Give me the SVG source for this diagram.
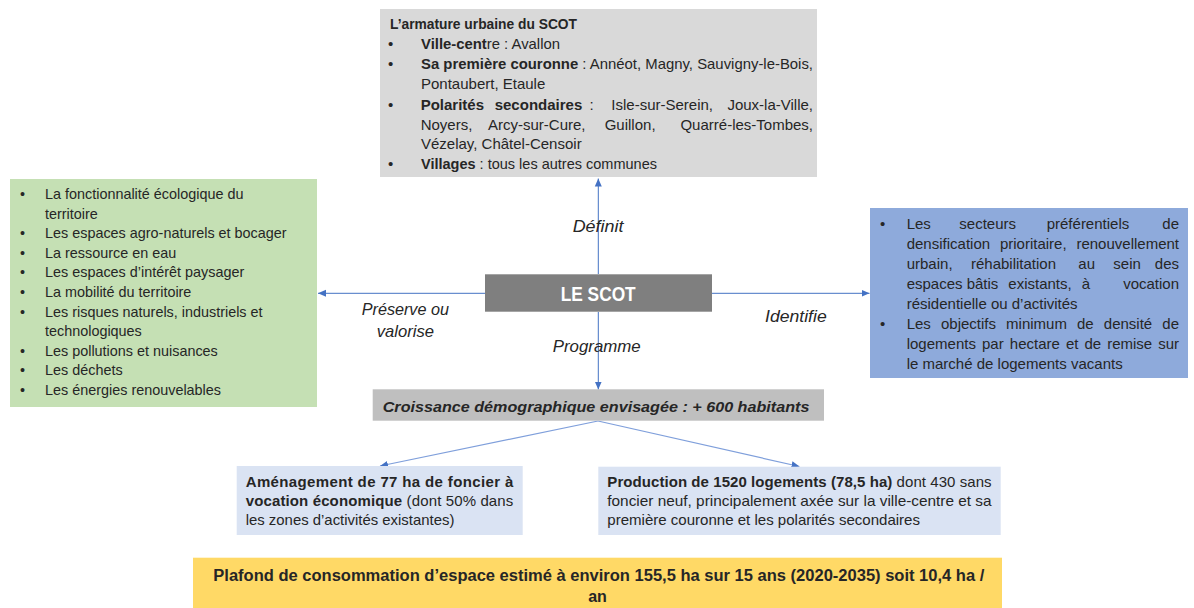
<svg xmlns="http://www.w3.org/2000/svg" width="1194" height="608" viewBox="0 0 1194 608">
<style>
text{font-family:"Liberation Sans",Arial,sans-serif;fill:#262626}
.t15{font-size:15px}
.t14{font-size:14.4px}
.b{font-weight:bold}
.lbl{font-size:16.5px;font-style:italic}
.ln{stroke:#4472c4;stroke-width:1;fill:none}
.ln2{stroke:#7f9fdb;stroke-width:1.2;fill:none}
</style>
<defs>
<marker id="ah" viewBox="0 0 8 8" refX="8" refY="4" markerWidth="8" markerHeight="8" markerUnits="userSpaceOnUse" orient="auto">
<path d="M0,0.5 L8,4 L0,7.5 z" fill="#4472c4"/>
</marker>
</defs>
<rect width="1194" height="608" fill="#ffffff"/>

<g id="connectors">
<line class="ln" x1="598.3" y1="274" x2="598.3" y2="178.5" marker-end="url(#ah)"/>
<line class="ln" x1="598.3" y1="312" x2="598.3" y2="389.5" marker-end="url(#ah)"/>
<line class="ln" x1="485" y1="293.3" x2="318" y2="293.3" marker-end="url(#ah)"/>
<line class="ln" x1="712" y1="293.3" x2="869.5" y2="293.3" marker-end="url(#ah)"/>
<line class="ln2" x1="598" y1="421" x2="380" y2="466" marker-end="url(#ah)"/>
<line class="ln2" x1="598" y1="421" x2="799.5" y2="466.5" marker-end="url(#ah)"/>
<text class="lbl" x="572.7" y="231.7" textLength="50.7" lengthAdjust="spacingAndGlyphs">Définit</text>
<text class="lbl" x="361.7" y="315" textLength="87.3" lengthAdjust="spacingAndGlyphs">Préserve ou</text>
<text class="lbl" x="376.7" y="336.7" textLength="57.3" lengthAdjust="spacingAndGlyphs">valorise</text>
<text class="lbl" x="765" y="321.7" textLength="61.7" lengthAdjust="spacingAndGlyphs">Identifie</text>
<text class="lbl" x="552.7" y="351.7" textLength="88" lengthAdjust="spacingAndGlyphs">Programme</text>
</g>

<g id="armature">
<rect x="380" y="9" width="437" height="168" fill="#d9d9d9"/>
<text class="t15 b" x="390" y="29.3" textLength="187" lengthAdjust="spacingAndGlyphs">L’armature urbaine du SCOT</text>
<g class="t15">
<text x="388" y="49.3">•</text>
<text x="388" y="69.3">•</text>
<text x="388" y="109.5">•</text>
<text x="388" y="169.3">•</text>
</g>
<text class="t15" x="421" y="49.3" textLength="139" lengthAdjust="spacingAndGlyphs"><tspan class="b">Ville-cent</tspan>re : Avallon</text>
<text class="t15" x="421" y="69.3" textLength="392" lengthAdjust="spacingAndGlyphs"><tspan class="b">Sa première couronne</tspan> : Annéot, Magny, Sauvigny-le-Bois,</text>
<text class="t15" x="421" y="89.3">Pontaubert, Etaule</text>
<text class="t15" y="109.5"><tspan class="b" x="420.7">Polarités</tspan><tspan class="b" x="494.7">secondaires</tspan><tspan x="589.5">:</tspan><tspan x="611.3">Isle-sur-Serein,</tspan></text>
<text class="t15" x="813" y="109.5" text-anchor="end">Joux-la-Ville,</text>
<text class="t15" y="129.5"><tspan x="420.7">Noyers,</tspan><tspan x="488">Arcy-sur-Cure,</tspan><tspan x="604.7">Guillon,</tspan></text>
<text class="t15" x="813" y="129.5" text-anchor="end">Quarré-les-Tombes,</text>
<text class="t15" x="421" y="149.3">Vézelay, Châtel-Censoir</text>
<text class="t15" x="421" y="169.3" textLength="236" lengthAdjust="spacingAndGlyphs"><tspan class="b">Villages</tspan> : tous les autres communes</text>
</g>

<g id="preserve">
<rect x="10" y="179" width="307" height="228" fill="#c5e0b4"/>
<g class="t14">
<text x="20" y="199">•</text><text x="45" y="199">La fonctionnalité écologique du</text>
<text x="45" y="218.6">territoire</text>
<text x="20" y="238.2">•</text><text x="45" y="238.2">Les espaces agro-naturels et bocager</text>
<text x="20" y="257.8">•</text><text x="45" y="257.8">La ressource en eau</text>
<text x="20" y="277.4">•</text><text x="45" y="277.4">Les espaces d’intérêt paysager</text>
<text x="20" y="297">•</text><text x="45" y="297">La mobilité du territoire</text>
<text x="20" y="316.6">•</text><text x="45" y="316.6">Les risques naturels, industriels et</text>
<text x="45" y="336.2">technologiques</text>
<text x="20" y="355.8">•</text><text x="45" y="355.8">Les pollutions et nuisances</text>
<text x="20" y="375.4">•</text><text x="45" y="375.4">Les déchets</text>
<text x="20" y="395">•</text><text x="45" y="395">Les énergies renouvelables</text>
</g>
</g>

<g id="identifie">
<rect x="870" y="208" width="318" height="170" fill="#8eaadb"/>
<g class="t15">
<text x="880" y="228.5">•</text>
<text y="228.5"><tspan x="906.7">Les</tspan><tspan x="959.3">secteurs</tspan><tspan x="1046.7">préférentiels</tspan></text>
<text x="1179" y="228.5" text-anchor="end">de</text>
<text y="248.5"><tspan x="906.7">densification</tspan><tspan x="999.9">prioritaire,</tspan></text>
<text x="1179" y="248.5" text-anchor="end">renouvellement</text>
<text y="268.5"><tspan x="906.7">urbain,</tspan><tspan x="971">réhabilitation</tspan><tspan x="1078.3">au</tspan><tspan x="1113.3">sein</tspan></text>
<text x="1179" y="268.5" text-anchor="end">des</text>
<text y="288.5"><tspan x="906.7">espaces</tspan><tspan x="966.7">bâtis</tspan><tspan x="1008.3">existants,</tspan><tspan x="1081.7">à</tspan></text>
<text x="1179" y="288.5" text-anchor="end">vocation</text>
<text x="906.7" y="308.5">résidentielle ou d’activités</text>
<text x="880" y="328.5">•</text>
<text y="328.5"><tspan x="906.7">Les</tspan><tspan x="941">objectifs</tspan><tspan x="1006.1">minimum</tspan><tspan x="1077">de</tspan><tspan x="1103.8">densité</tspan></text>
<text x="1179" y="328.5" text-anchor="end">de</text>
<text y="348.5"><tspan x="906.7">logements</tspan><tspan x="982">par</tspan><tspan x="1009.8">hectare</tspan><tspan x="1065.9">et</tspan><tspan x="1084.4">de</tspan><tspan x="1107.2">remise</tspan></text>
<text x="1179" y="348.5" text-anchor="end">sur</text>
<text x="906.7" y="368.5">le marché de logements vacants</text>
</g>
</g>

<g id="scot">
<rect x="485" y="274.3" width="227" height="37.4" fill="#7f7f7f"/>
<text x="560.7" y="300.7" style="font-size:20px;font-weight:bold;fill:#ffffff" textLength="75" lengthAdjust="spacingAndGlyphs">LE SCOT</text>
</g>

<g id="croissance">
<rect x="372.7" y="389.3" width="451.3" height="31.4" fill="#bfbfbf"/>
<text x="382.7" y="411.5" style="font-size:15.5px;font-weight:bold;font-style:italic" textLength="426.7" lengthAdjust="spacingAndGlyphs">Croissance démographique envisagée : + 600 habitants</text>
</g>

<g id="amenagement">
<rect x="236.7" y="466" width="286" height="69" fill="#dae3f3"/>
<text class="t15 b" x="245.7" y="486.7" textLength="267.6" lengthAdjust="spacing">Aménagement de 77 ha de foncier à</text>
<text class="t15" x="245.7" y="506" textLength="267.6" lengthAdjust="spacing"><tspan class="b">vocation économique</tspan> (dont 50% dans</text>
<text class="t15" x="245.7" y="525" textLength="208.7" lengthAdjust="spacingAndGlyphs">les zones d’activités existantes)</text>
</g>

<g id="production">
<rect x="598.3" y="466.7" width="402.4" height="68.3" fill="#dae3f3"/>
<text class="t15" x="607.3" y="486.7" textLength="384.3" lengthAdjust="spacing"><tspan class="b">Production de 1520 logements (78,5 ha)</tspan> dont 430 sans</text>
<text class="t15" x="607.3" y="505.5" textLength="384.3" lengthAdjust="spacingAndGlyphs">foncier neuf, principalement axée sur la ville-centre et sa</text>
<text class="t15" x="607.3" y="524.5" textLength="312.7" lengthAdjust="spacingAndGlyphs">première couronne et les polarités secondaires</text>
</g>

<g id="plafond">
<rect x="193" y="557.7" width="809" height="55" fill="#ffd966"/>
<text x="213.3" y="581" style="font-size:16px;font-weight:bold" textLength="771" lengthAdjust="spacingAndGlyphs">Plafond de consommation d’espace estimé à environ 155,5 ha sur 15 ans (2020-2035) soit 10,4 ha /</text>
<text x="597.5" y="602.3" style="font-size:16px;font-weight:bold" text-anchor="middle">an</text>
</g>
</svg>
